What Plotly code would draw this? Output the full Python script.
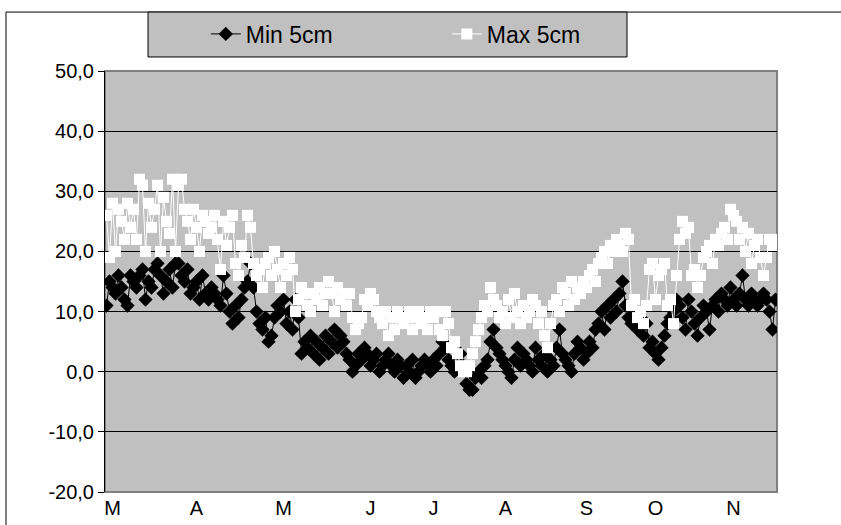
import plotly.graph_objects as go

# Daily soil temperature at 5 cm depth (°C), March to November
min_5cm = [
    11, 15, 14, 13, 16, 14, 12, 11, 16, 15,
    14, 16, 17, 12, 15, 14, 17, 18, 16, 13,
    15, 17, 14, 18, 18, 16, 15, 17, 13, 14,
    15, 12, 16, 13, 12, 14, 13, 12, 11, 16,
    13, 10, 8, 11, 9, 12, 14, 15, 18, 14,
    10, 8, 7, 9, 5, 6, 9, 11, 10, 12,
    8, 10, 7, 12, 9, 3, 5, 4, 6, 3,
    5, 2, 4, 6, 3, 5, 7, 4, 6, 5,
    3, 2, 0, 1, 3, 2, 4, 3, 1, 2,
    3, 0, 1, 2, 3, 1, 0, 2, 1, -1,
    1, 0, 2, -1, 0, 1, 2, 1, 0, 2,
    1, 3, 5, 4, 2, 1, 0, 1, 3, 1,
    -2, -3, -3, -1, 0, -1, 1, 2, 5, 7,
    4, 3, 2, 1, 0, -1, 2, 4, 1, 3,
    2, 1, 0, 4, 2, 1, 3, 0, 2, 1,
    4, 7, 3, 2, 1, 0, 3, 5, 4, 2,
    3, 5, 4, 7, 8, 10, 7, 11, 9, 12,
    10, 13, 15, 11, 9, 8, 10, 7, 9, 6,
    8, 4, 5, 3, 2, 4, 6, 8, 9, 10,
    12, 11, 9, 7, 12, 10, 8, 6, 9, 11,
    10, 7, 11, 12, 10, 13, 12, 11, 14, 12,
    11, 13, 16, 12, 11, 13, 12, 11, 12, 13,
    12, 10, 7, 12,
]

max_5cm = [
    26, 19, 28, 20, 27, 25, 22, 28, 24, 27,
    22, 32, 31, 20, 28, 24, 27, 31, 20, 29,
    25, 23, 32, 20, 31, 32, 27, 25, 22, 27,
    24, 20, 26, 25, 23, 24, 26, 22, 17, 25,
    21, 24, 26, 18, 16, 21, 19, 26, 24, 18,
    16, 17, 14, 18, 19, 16, 20, 17, 14, 18,
    16, 19, 17, 10, 12, 14, 13, 11, 10, 13,
    12, 14, 11, 13, 15, 13, 10, 14, 12, 13,
    11, 13, 9, 7, 8, 9, 12, 11, 13, 12,
    10, 9, 8, 10, 6, 9, 7, 10, 9, 8,
    9, 10, 7, 9, 10, 8, 9, 7, 10, 9,
    10, 7, 6, 10, 8, 4, 5, 3, 1, 0,
    0, 1, 3, 5, 7, 9, 11, 10, 14, 12,
    11, 9, 10, 8, 12, 9, 13, 10, 8, 11,
    9, 10, 12, 11, 8, 10, 6, 4, 8, 11,
    12, 10, 14, 13, 11, 15, 12, 14, 13, 15,
    14, 16, 17, 15, 18, 19, 20, 18, 21, 20,
    22, 21, 20, 23, 22, 11, 12, 9, 10, 8,
    11, 17, 18, 12, 16, 17, 18, 11, 12, 8,
    16, 22, 25, 23, 24, 16, 17, 14, 16, 19,
    20, 21, 18, 22, 21, 23, 24, 22, 27, 26,
    25, 22, 24, 20, 23, 18, 21, 22, 19, 16,
    19, 22, 21, 22,
]

month_labels = ["M", "A", "M", "J", "J", "A", "S", "O", "N"]
month_positions = [2, 30, 59, 88, 109, 133, 160, 183, 209]

y_ticks = [-20, -10, 0, 10, 20, 30, 40, 50]
y_tick_text = ["-20,0", "-10,0", "0,0", "10,0", "20,0", "30,0", "40,0", "50,0"]

days = list(range(len(min_5cm)))

FONT = "Arial, Liberation Sans, sans-serif"

fig = go.Figure()

fig.add_trace(go.Scatter(
    x=days, y=min_5cm, name="Min 5cm", mode="lines+markers",
    line=dict(color="black", width=1),
    marker=dict(symbol="diamond", size=11, color="black"),
))
fig.add_trace(go.Scatter(
    x=days, y=max_5cm, name="Max 5cm", mode="lines+markers",
    line=dict(color="white", width=1),
    marker=dict(symbol="square", size=11, color="white"),
))

shapes = [
    # outer chart frame
    dict(type="rect", xref="paper", yref="paper",
         x0=-0.1473, x1=1.11, y0=-0.12, y1=1.140,
         line=dict(color="black", width=1), fillcolor="rgba(0,0,0,0)", layer="below"),
    # plot-area border
    dict(type="rect", xref="paper", yref="paper",
         x0=0, x1=1, y0=0, y1=1,
         line=dict(color="#808080", width=2), fillcolor="rgba(0,0,0,0)", layer="below"),
    # legend box
    dict(type="rect", xref="paper", yref="paper",
         x0=0.064, x1=0.7768, y0=1.0333, y1=1.140,
         line=dict(color="black", width=1), fillcolor="#C0C0C0", layer="below"),
]

fig.update_layout(
    width=841, height=525,
    margin=dict(l=105, r=64, t=71, b=33, autoexpand=False),
    paper_bgcolor="white",
    plot_bgcolor="#C0C0C0",
    font=dict(family=FONT, size=20, color="black"),
    showlegend=True,
    legend=dict(
        orientation="h", x=0.150, y=1.088, xanchor="left", yanchor="middle",
        bgcolor="rgba(0,0,0,0)", borderwidth=0,
        font=dict(family=FONT, size=23, color="black"),
        entrywidth=196, entrywidthmode="pixels",
        itemclick=False,
    ),
    shapes=shapes,
)

fig.update_xaxes(
    range=[-0.5, len(days) - 0.5],
    tickmode="array", tickvals=month_positions, ticktext=month_labels,
    ticks="", showgrid=False, zeroline=False, showline=False,
    automargin=False, ticklabelstandoff=2,
    tickfont=dict(family=FONT, size=20, color="black"),
)
fig.update_yaxes(
    range=[-20, 50],
    tickmode="array", tickvals=y_ticks, ticktext=y_tick_text,
    ticks="outside", ticklen=6, tickcolor="black", tickwidth=1,
    showgrid=True, gridcolor="black", gridwidth=1,
    zeroline=False, showline=True, linecolor="black", linewidth=1,
    automargin=False,
    tickfont=dict(family=FONT, size=20, color="black"),
)

fig.write_html("out.html")
